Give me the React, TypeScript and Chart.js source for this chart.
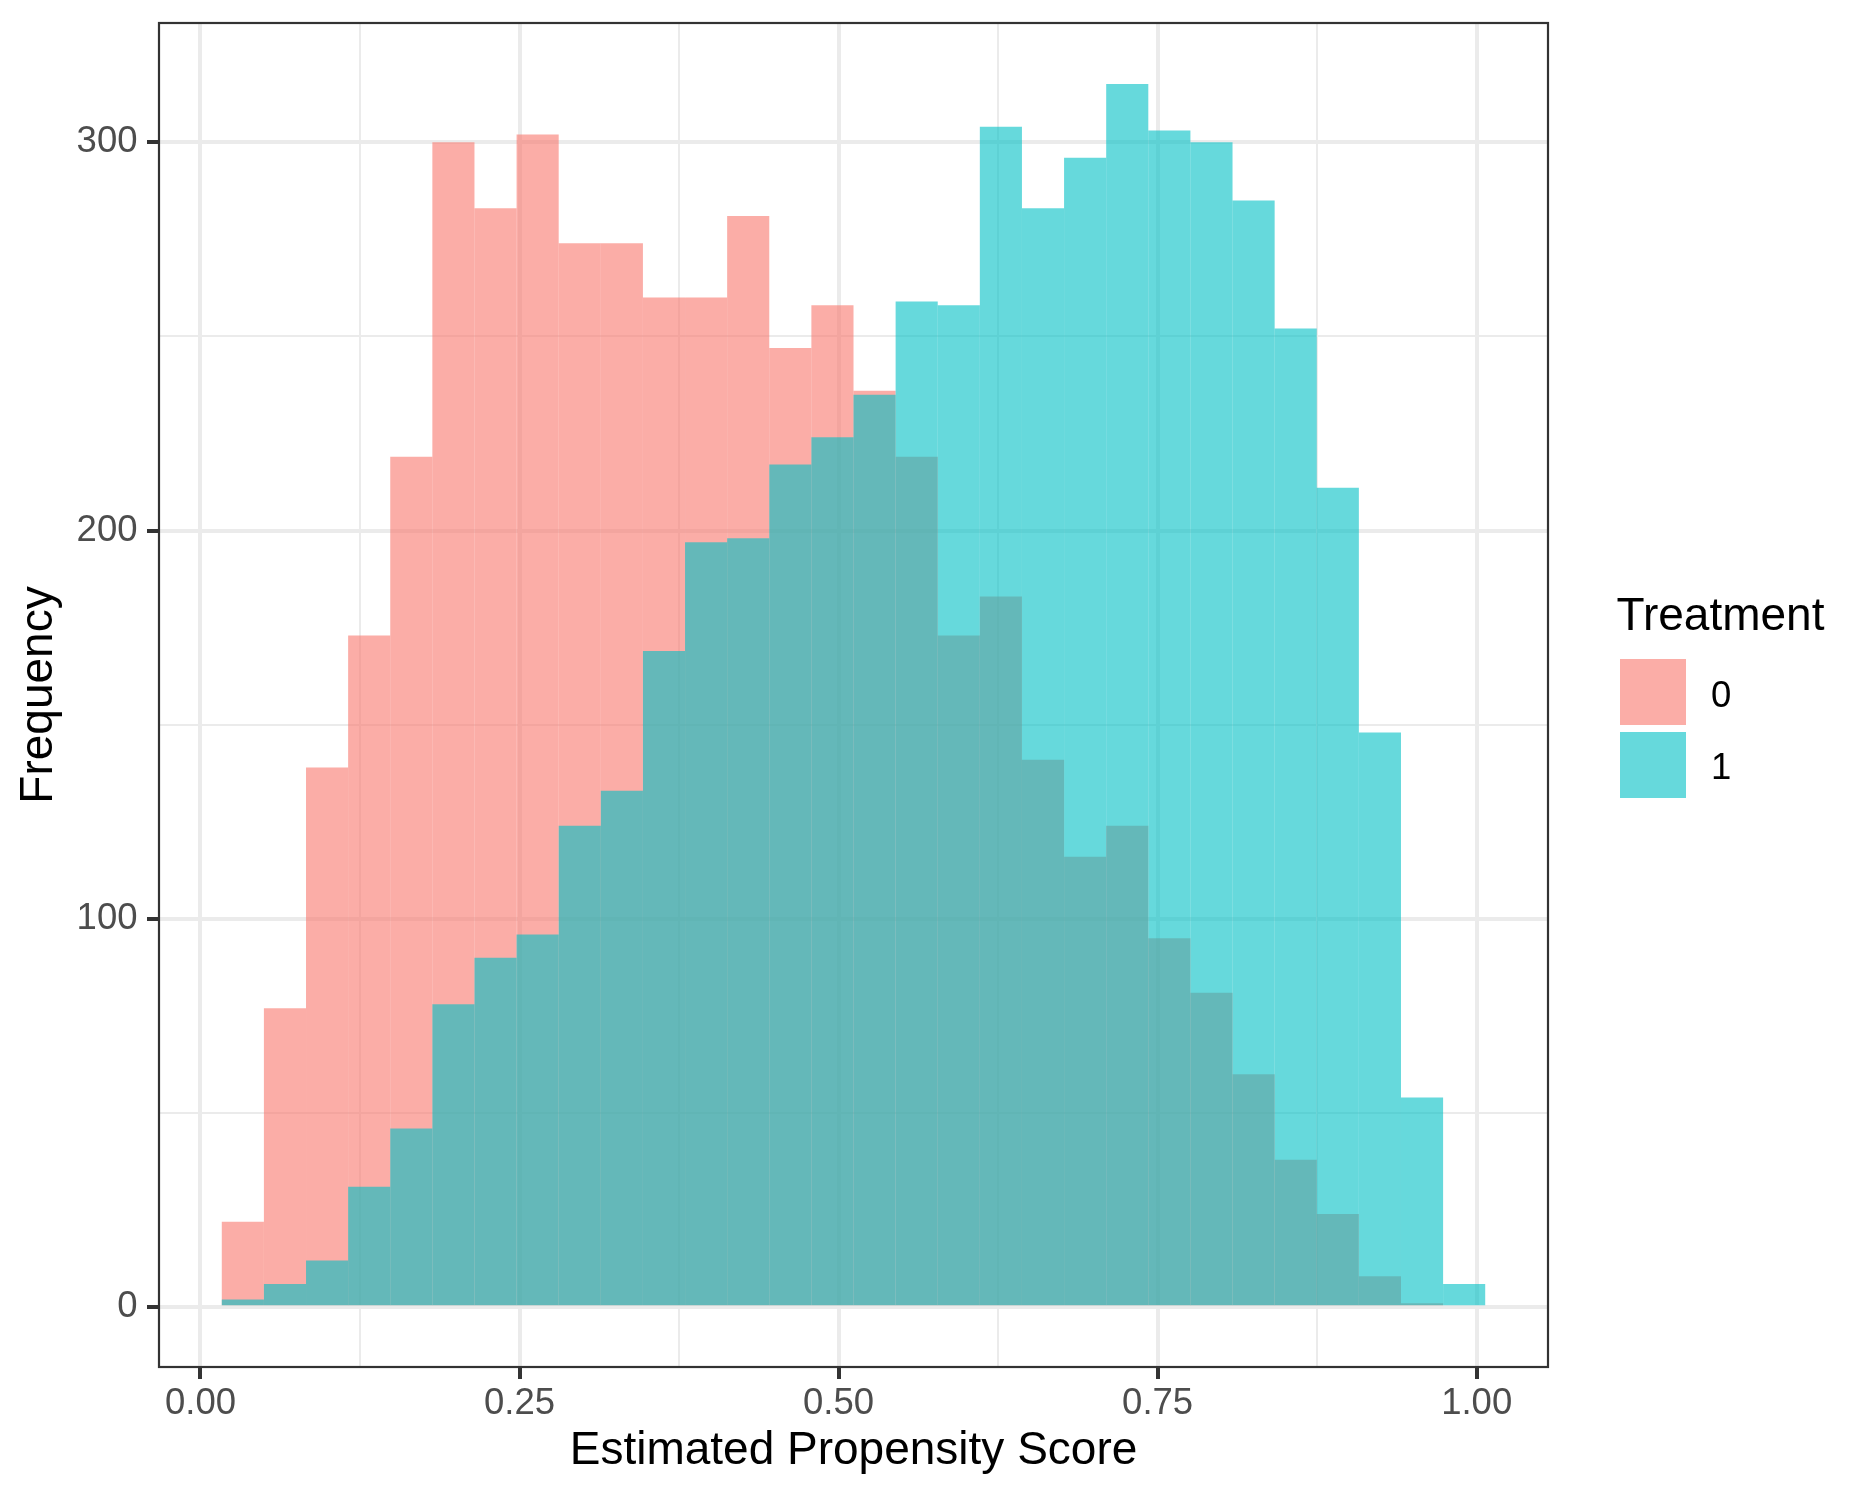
import { useEffect, useRef } from 'react';
import { Chart, registerables } from 'chart.js';

Chart.register(...registerables);

// Histogram bins (30 bins, width 0.033) -- centers on the propensity score axis
const binCenters = [
  0.0332, 0.0662, 0.0992, 0.1322, 0.1652, 0.1982, 0.2312, 0.2642, 0.2972, 0.3302,
  0.3632, 0.3962, 0.4292, 0.4622, 0.4952, 0.5282, 0.5612, 0.5942, 0.6272, 0.6602,
  0.6932, 0.7262, 0.7592, 0.7922, 0.8252, 0.8582, 0.8912, 0.9242, 0.9572, 0.9902,
];

// Treatment = 0
const controlCounts = [
  22, 77, 139, 173, 219, 300, 283, 302, 274, 274,
  260, 260, 281, 247, 258, 236, 219, 173, 183, 141,
  116, 124, 95, 81, 60, 38, 24, 8, 1, 0,
];

// Treatment = 1
const treatedCounts = [
  2, 6, 12, 31, 46, 78, 90, 96, 124, 133,
  169, 197, 198, 217, 224, 235, 259, 258, 304, 283,
  296, 315, 303, 300, 285, 252, 211, 148, 54, 6,
];

const groupLabels = ['0', '1'];
const xMajorTicks = [0, 0.25, 0.5, 0.75, 1];
const xMinorTicks = [0.125, 0.375, 0.625, 0.875];
const yMajorTicks = [0, 100, 200, 300];
const yMinorTicks = [50, 150, 250];

const FONT = '"Liberation Sans", Arial, Helvetica, sans-serif';
const SALMON = 'rgba(248, 118, 109, 0.6)';
const TEAL = 'rgba(0, 191, 196, 0.6)';
// legend keys are the same colours flattened on white
const SALMON_KEY = '#FBADA7';
const TEAL_KEY = '#66D9DC';

const panelBorder = {
  id: 'panelBorder',
  afterDatasetsDraw(chart: Chart) {
    const { ctx, chartArea: a } = chart;
    ctx.save();
    ctx.strokeStyle = '#333333';
    ctx.lineWidth = 2.2;
    ctx.strokeRect(a.left, a.top, a.right - a.left, a.bottom - a.top);
    ctx.restore();
  },
};

function gridFor(majors: number[]) {
  const isMajor = (c: any) => majors.includes(c.tick?.value);
  return {
    color: '#EBEBEB',
    lineWidth: (c: any) => (isMajor(c) ? 4 : 2),
    tickColor: (c: any) => (isMajor(c) ? '#333333' : 'rgba(0,0,0,0)'),
    tickWidth: 4,
    tickLength: 12,
    offset: false,
    drawTicks: true,
  };
}

// keep the scales from pushing the panel in for their end labels
function noScalePadding(scale: any) {
  scale.paddingTop = 0;
  scale.paddingBottom = 0;
  scale.paddingLeft = 0;
  scale.paddingRight = 0;
}

function Histogram() {
  const chartRef = useRef<HTMLCanvasElement>(null);
  const chartInstance = useRef<Chart | null>(null);

  useEffect(() => {
    if (!chartRef.current) return;
    if (chartInstance.current) chartInstance.current.destroy();

    const tickFont = { family: FONT, size: 36.5 };
    const titleFont = { family: FONT, size: 46 };

    chartInstance.current = new Chart(chartRef.current, {
      type: 'bar',
      data: {
        datasets: [
          {
            label: groupLabels[0],
            data: binCenters.map((x, i) => ({ x, y: controlCounts[i] })),
            backgroundColor: SALMON,
            order: 1,
          },
          {
            label: groupLabels[1],
            data: binCenters.map((x, i) => ({ x, y: treatedCounts[i] })),
            backgroundColor: TEAL,
            order: 0,
          },
        ],
      },
      plugins: [panelBorder],
      options: {
        responsive: false,
        devicePixelRatio: 1,
        animation: false,
        layout: { padding: { left: 0, top: 23, right: 322, bottom: 0 } },
        datasets: {
          bar: {
            grouped: false,
            barPercentage: 1,
            categoryPercentage: 1,
            borderWidth: 0,
            inflateAmount: 0,
          },
        },
        plugins: {
          legend: { display: false },
          tooltip: { enabled: false },
        },
        scales: {
          x: {
            type: 'linear',
            min: -0.0325,
            max: 1.0559,
            offset: false,
            border: { display: false },
            grid: gridFor(xMajorTicks),
            afterBuildTicks: (scale: any) => {
              scale.ticks = [...xMajorTicks, ...xMinorTicks]
                .sort((a, b) => a - b)
                .map((value) => ({ value }));
            },
            afterFit: (scale: any) => {
              scale.height = 133;
              noScalePadding(scale);
            },
            ticks: {
              autoSkip: false,
              maxRotation: 0,
              minRotation: 0,
              padding: 3.3,
              color: '#4D4D4D',
              font: tickFont,
              callback: (value: any) =>
                xMajorTicks.includes(Number(value)) ? Number(value).toFixed(2) : '',
            },
            title: {
              display: true,
              text: 'Estimated Propensity Score',
              color: '#000000',
              font: titleFont,
              padding: { top: 0, bottom: 21 },
            },
          },
          y: {
            type: 'linear',
            min: -15.4,
            max: 330.7,
            border: { display: false },
            grid: gridFor(yMajorTicks),
            afterBuildTicks: (scale: any) => {
              scale.ticks = [...yMajorTicks, ...yMinorTicks]
                .sort((a, b) => a - b)
                .map((value) => ({ value }));
            },
            afterFit: (scale: any) => {
              scale.width = 159;
              noScalePadding(scale);
            },
            ticks: {
              autoSkip: false,
              padding: 9.5,
              color: '#4D4D4D',
              font: tickFont,
              callback: (value: any) =>
                yMajorTicks.includes(Number(value)) ? String(value) : '',
            },
            title: {
              display: true,
              text: 'Frequency',
              color: '#000000',
              font: titleFont,
              padding: { top: 11.5, bottom: 0 },
            },
          },
        },
      },
    } as any);

    return () => {
      if (chartInstance.current) {
        chartInstance.current.destroy();
        chartInstance.current = null;
      }
    };
  }, []);

  return <canvas ref={chartRef} width={1870} height={1500} style={{ width: 1870, height: 1500 }} />;
}

function Legend() {
  const keyColors = [SALMON_KEY, TEAL_KEY];
  const keyTops = [659, 731.5];
  const labelCenters = [695, 767];
  return (
    <>
      <div
        style={{
          position: 'absolute',
          left: 1616.5,
          top: 591,
          fontFamily: FONT,
          fontSize: 46,
          lineHeight: '46px',
          color: '#000',
          whiteSpace: 'nowrap',
        }}
      >
        Treatment
      </div>
      {groupLabels.map((g, i) => (
        <div key={g}>
          <div
            style={{
              position: 'absolute',
              left: 1620,
              top: keyTops[i],
              width: 66,
              height: 66,
              background: keyColors[i],
            }}
          />
          <div
            style={{
              position: 'absolute',
              left: 1711,
              top: labelCenters[i] - 18.25,
              fontFamily: FONT,
              fontSize: 36.5,
              lineHeight: '36.5px',
              color: '#000',
            }}
          >
            {g}
          </div>
        </div>
      ))}
    </>
  );
}

export default function App() {
  return (
    <div
      style={{
        position: 'absolute',
        left: 0,
        top: 0,
        width: 1870,
        height: 1500,
        background: '#FFFFFF',
      }}
    >
      <Histogram />
      <Legend />
    </div>
  );
}
